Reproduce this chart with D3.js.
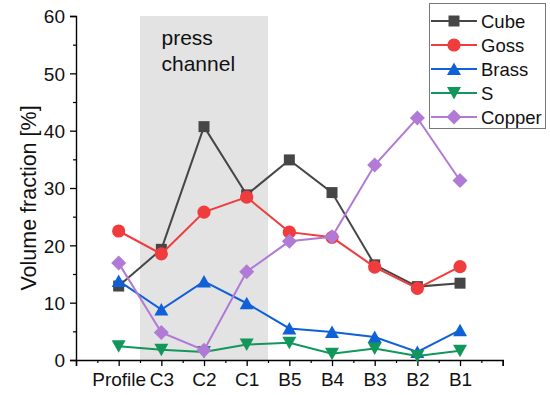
<!DOCTYPE html>
<html>
<head>
<meta charset="utf-8">
<script src="https://cdn.jsdelivr.net/npm/d3@7"></script>
<style>
  html, body { margin: 0; padding: 0; background: #fff; }
  svg { display: block; font-family: "Liberation Sans", Arial, sans-serif; }
</style>
</head>
<body>
<svg id="chart" width="550" height="395"></svg>
<script>
// Sample positions along the profile
const categories = ["Profile", "C3", "C2", "C1", "B5", "B4", "B3", "B2", "B1"];

// Texture component volume fractions [%]
const cube   = [12.9, 19.3, 40.7, 28.8, 34.9, 29.2, 16.6, 12.8, 13.4];
const goss   = [22.5, 18.5, 25.8, 28.4, 22.3, 21.4, 16.2, 12.5, 16.3];
const brass  = [13.8, 8.8, 13.7, 9.9, 5.5, 4.9, 4.0, 1.4, 5.2];
const sComp  = [2.4, 1.8, 1.4, 2.7, 3.0, 1.1, 2.0, 0.7, 1.6];
const copper = [16.9, 4.8, 1.7, 15.4, 20.7, 21.5, 34.0, 42.2, 31.3];

const seriesNames = ["Cube", "Goss", "Brass", "S", "Copper"];
const yTicks = [0, 10, 20, 30, 40, 50, 60];
const channelRange = [1.5, 4.5];   // press channel zone (C3..C1)

const series = [
  { name: seriesNames[0], values: cube,   color: "#464646", symbol: "square" },
  { name: seriesNames[1], values: goss,   color: "#f03c3c", symbol: "circle" },
  { name: seriesNames[2], values: brass,  color: "#1060d8", symbol: "up" },
  { name: seriesNames[3], values: sComp,  color: "#12975a", symbol: "down" },
  { name: seriesNames[4], values: copper, color: "#b07ad6", symbol: "diamond" }
];

const svg = d3.select("#chart");
const x = d3.scaleLinear().domain([0, 10]).range([76, 502.7]);
const y = d3.scaleLinear().domain([0, 60]).range([360, 16]);

// Marker shapes, each centred on its bounding box
function symbolPath(type) {
  switch (type) {
    case "square":  return "M-5.5,-5.5H5.5V5.5H-5.5Z";
    case "circle":  return d3.arc()({innerRadius: 0, outerRadius: 6.6, startAngle: 0, endAngle: 2 * Math.PI});
    case "up":      return "M0,-6.5L7,6L-7,6Z";
    case "down":    return "M0,6.5L7,-6L-7,-6Z";
    case "diamond": return "M0,-7.5L7.5,0L0,7.5L-7.5,0Z";
  }
}

// Shaded press channel zone
svg.append("rect")
  .attr("x", x(channelRange[0]))
  .attr("y", y(60))
  .attr("width", x(channelRange[1]) - x(channelRange[0]))
  .attr("height", y(0) - y(60))
  .attr("fill", "#e3e3e3");

svg.append("text")
  .attr("x", 161.5).attr("y", 45)
  .attr("font-size", 21).attr("fill", "#111")
  .text("press");
svg.append("text")
  .attr("x", 161.5).attr("y", 70.5)
  .attr("font-size", 21).attr("fill", "#111")
  .text("channel");

// Y axis
const yAxis = d3.axisLeft(y).tickValues(yTicks).tickSize(6).tickPadding(5).tickFormat(d3.format("d"));
const gy = svg.append("g").attr("transform", `translate(${x(0)},0)`).call(yAxis);
gy.selectAll("text").attr("font-size", 19).attr("fill", "#111").attr("dy", "0.36em");
gy.select(".domain").attr("stroke-width", 1.4);
gy.selectAll(".tick line").attr("stroke-width", 1.3);
const yMinor = d3.axisLeft(y).tickValues(d3.range(5, 60, 10)).tickSize(3).tickFormat("");
const gym = svg.append("g").attr("transform", `translate(${x(0)},0)`).call(yMinor);
gym.select(".domain").remove();
gym.selectAll(".tick line").attr("stroke-width", 1.2);

// X axis
const xAxis = d3.axisBottom(x).tickValues(d3.range(0, 11)).tickSize(6).tickPadding(7)
  .tickFormat(d => (d >= 1 && d <= 9) ? categories[d - 1] : "");
const gx = svg.append("g").attr("transform", `translate(0,${y(0)})`).call(xAxis);
gx.selectAll("text").attr("font-size", 19).attr("fill", "#111");
gx.select(".domain").attr("stroke-width", 1.4);
gx.selectAll(".tick line").attr("stroke-width", 1.3);
const xMinor = d3.axisBottom(x).tickValues(d3.range(0.5, 10, 1)).tickSize(3).tickFormat("");
const gxm = svg.append("g").attr("transform", `translate(0,${y(0)})`).call(xMinor);
gxm.select(".domain").remove();
gxm.selectAll(".tick line").attr("stroke-width", 1.2);

// Y axis title
svg.append("text")
  .attr("transform", `translate(36,${(y(0) + y(60)) / 2 + 10}) rotate(-90)`)
  .attr("text-anchor", "middle")
  .attr("font-size", 21.5).attr("fill", "#111")
  .text("Volume fraction [%]");

// Series lines and markers
const line = d3.line().x((d, i) => x(i + 1)).y(d => y(d));
series.forEach(s => {
  const g = svg.append("g");
  g.append("path")
    .attr("d", line(s.values))
    .attr("fill", "none")
    .attr("stroke", s.color)
    .attr("stroke-width", 2);
  g.selectAll("path.m").data(s.values).join("path")
    .attr("class", "m")
    .attr("d", symbolPath(s.symbol))
    .attr("transform", (d, i) => `translate(${x(i + 1)},${y(d)})`)
    .attr("fill", s.color);
});

// Legend
const lg = svg.append("g");
lg.append("rect")
  .attr("x", 429.5).attr("y", 3.5).attr("width", 116).attr("height", 125)
  .attr("fill", "#fff").attr("stroke", "#777").attr("stroke-width", 1);
series.forEach((s, i) => {
  const cy = 21 + i * 24;
  lg.append("line")
    .attr("x1", 431).attr("x2", 477).attr("y1", cy).attr("y2", cy)
    .attr("stroke", s.color).attr("stroke-width", 2);
  lg.append("path")
    .attr("d", symbolPath(s.symbol))
    .attr("transform", `translate(454,${cy})`)
    .attr("fill", s.color);
  lg.append("text")
    .attr("x", 481).attr("y", cy).attr("dy", "0.36em")
    .attr("font-size", 18.5).attr("fill", "#111")
    .text(s.name);
});
</script>
</body>
</html>
